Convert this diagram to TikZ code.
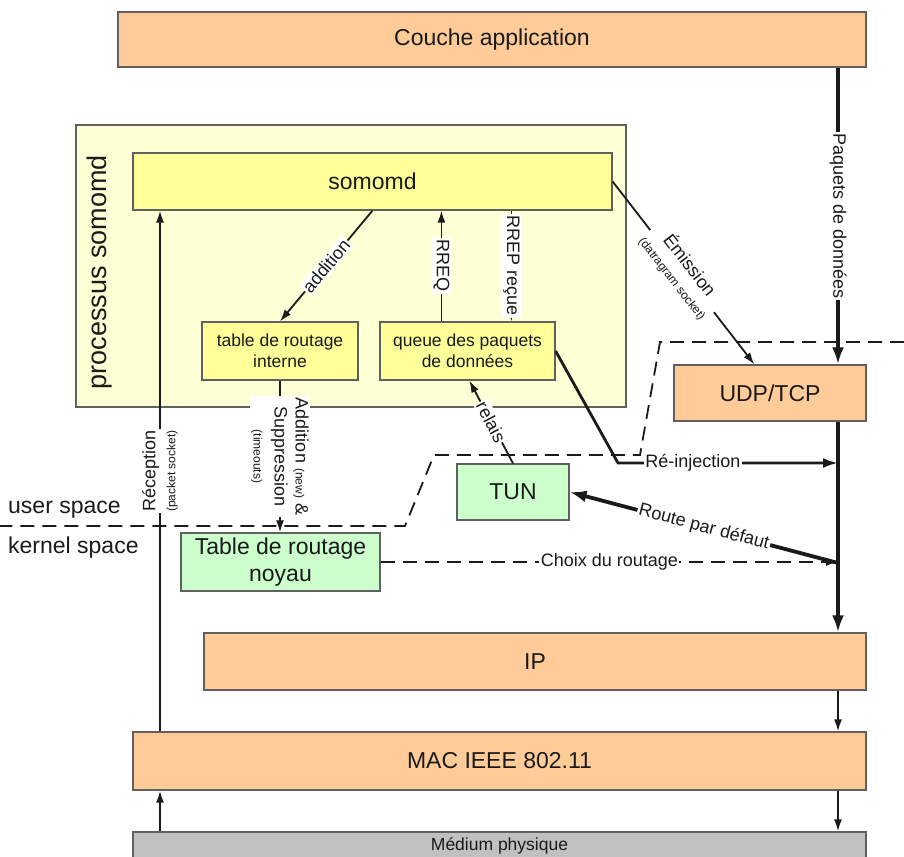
\documentclass[tikz,border=0pt]{standalone}
\usepackage{fontspec}
\setmainfont{Liberation Sans}
\usetikzlibrary{arrows.meta,calc}
\definecolor{peach}{HTML}{FFCC99}
\definecolor{ybox}{HTML}{FFFF99}
\definecolor{yproc}{HTML}{FFFFD5}
\definecolor{gbox}{HTML}{CCFFCC}
\definecolor{mbox}{HTML}{C0C0C0}
\definecolor{bcol}{HTML}{606060}
\definecolor{tcol}{HTML}{1A1A1A}
\newcommand\szA{\fontsize{23}{27}\selectfont}
\newcommand\szP{\fontsize{27}{30}\selectfont}
\newcommand\szB{\fontsize{18}{21}\selectfont}
\newcommand\szT{\fontsize{17.5}{21}\selectfont}
\newcommand\szC{\fontsize{12}{14}\selectfont}
\begin{document}
\begin{tikzpicture}[x=1pt,y=-1pt,
  box/.style={draw=bcol, line width=1.2pt, inner sep=0pt, align=center, text=tcol},
  lbl/.style={fill=white, inner sep=1.5pt, text=tcol, font=\szB},
  arr/.style={line width=1.8pt, draw=tcol, -{Latex[length=12pt,width=8pt]}},
  medarr/.style={line width=2.8pt, draw=tcol, -{Latex[length=15pt,width=10pt]}},
  bigarr/.style={line width=3.8pt, draw=tcol, -{Latex[length=17pt,width=12pt]}},
  dasharr/.style={line width=1.8pt, draw=tcol, dash pattern=on 14pt off 8pt, -{Latex[length=12pt,width=8pt]}},
  boundary/.style={line width=1.8pt, draw=tcol, dash pattern=on 14pt off 8pt}
]
\useasboundingbox (0,0) rectangle (904,856);
\clip (0,0) rectangle (904,856);

% boxes
\node[box, fill=peach, minimum width=748pt, minimum height=55pt, font=\szA] (app) at (492,39.5) {Couche application};
\node[box, fill=yproc, minimum width=550pt, minimum height=282pt] (proc) at (351,266) {};
\node[rotate=90, font=\szP, text=tcol] (proclbl) at (100,272) {processus somomd};
\node[box, fill=ybox, minimum width=479pt, minimum height=57pt, font=\szA] (somomd) at (372.5,181.5) {somomd};
\node[box, fill=ybox, minimum width=156pt, minimum height=58pt, font=\szT] (tri) at (280,351) {table de routage\\interne};
\node[box, fill=ybox, minimum width=175pt, minimum height=58pt, font=\szT] (queue) at (467.5,351) {queue des paquets\\de données};
\node[box, fill=peach, minimum width=192pt, minimum height=56pt, font=\szA] (udp) at (770,393) {UDP/TCP};
\node[box, fill=gbox, minimum width=112pt, minimum height=56pt, font=\szA] (tun) at (513,492) {TUN};
\node[box, fill=gbox, minimum width=199pt, minimum height=58pt, font=\szA] (noyau) at (280.5,562) {Table de routage\\noyau};
\node[box, fill=peach, minimum width=662pt, minimum height=57pt, font=\szA] (ip) at (535,661.5) {IP};
\node[box, fill=peach, minimum width=733pt, minimum height=58pt, font=\szA] (mac) at (499.5,761) {MAC IEEE 802.11};
\node[box, fill=mbox, minimum width=733pt, minimum height=28pt, font=\szT] (med) at (499.5,846) {Médium physique};

% user / kernel space
\draw[boundary] (904,342) -- (660,342) -- (640,455) -- (434,455) -- (405,526) -- (0,526);
\node[anchor=base west, font=\szA, text=tcol, inner sep=0pt] (us) at (8,513) {user space};
\node[anchor=base west, font=\szA, text=tcol, inner sep=0pt] (ks) at (8,553) {kernel space};

% coordinates
\coordinate (c) at (838,0);
\coordinate (l) at (160,0);
\coordinate (rreq) at ($(queue.north west)+(62,0)$);
\coordinate (rrep) at ($(queue.north west)+(132,0)$);
\coordinate (emis) at ($(udp.north west)+(81,0)$);
\coordinate (relq) at ($(queue.south west)+(90,0)$);
\coordinate (rjbend) at (618,463);
\coordinate (rj) at (838,463);
\coordinate (rd) at (838,563);

% main column
\draw[bigarr] (c |- app.south) -- node[lbl, rotate=-90] {Paquets de données} (c |- udp.north);
\draw[bigarr] (c |- udp.south) -- (c |- ip.north);
\draw[arr] (c |- ip.south) -- (c |- mac.north);
\draw[arr] (c |- mac.south) -- (c |- med.north);

% left column
\draw[arr] (l |- med.north) -- (l |- mac.south);
\draw[arr] (l |- mac.north) -- node[lbl, rotate=90, align=center] {Réception\\[-1pt]{\szC(packet socket)}} (l |- somomd.south);

% somomd internals
\draw[arr] (somomd.south) -- node[lbl, sloped] {addition} (tri.north);
\draw[arr] (rreq) -- node[lbl, rotate=-90] {RREQ} (rreq |- somomd.south);
\draw[arr] (rrep |- somomd.south) -- node[lbl, rotate=-90] {RREP reçue} (rrep);
\draw[arr] (somomd.east) -- node[lbl, sloped, pos=0.49, align=center] {Émission\\[-1pt]{\szC(datragram socket)}} (emis);
\draw[arr] (tri.south) -- node[lbl, rotate=-90, align=center, pos=0.5] {Addition {\szC(new)} \&\\Suppression\\{\szC(timeouts)}} (tri.south |- noyau.north);
\draw[arr] (tun.north) -- node[lbl, sloped] {relais} (relq);

% kernel arrows
\draw[medarr] (queue.east) -- (rjbend) -- node[lbl, pos=0.34] {Ré-injection} (rj);
\draw[bigarr] (rd) -- node[lbl, sloped] {Route par défaut} (tun.east);
\draw[dasharr] (noyau.east) -- node[lbl] {Choix du routage} (noyau.east -| c);
\end{tikzpicture}
\end{document}
